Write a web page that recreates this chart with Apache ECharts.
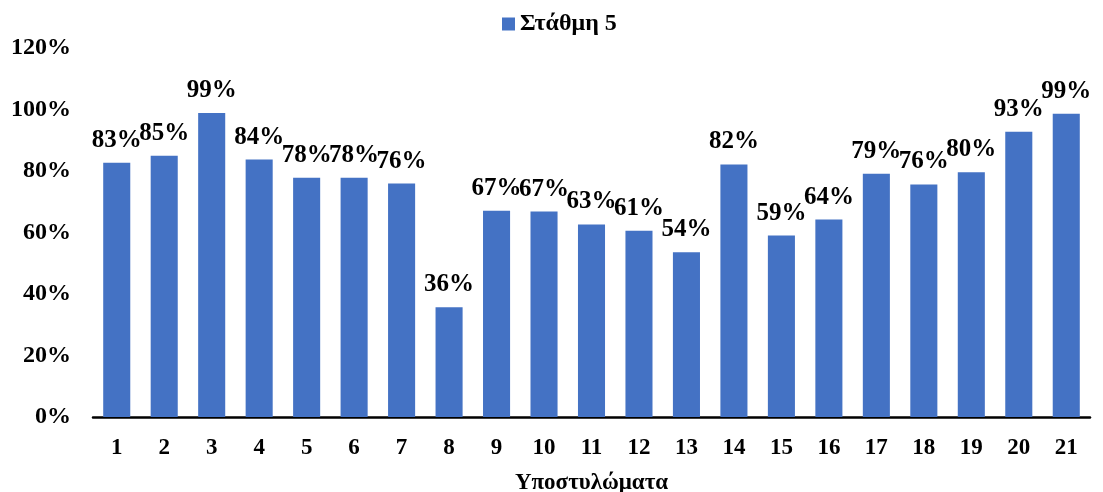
<!DOCTYPE html>
<html>
<head>
<meta charset="utf-8">
<script src="https://cdn.jsdelivr.net/npm/echarts@6/dist/echarts.min.js"></script>
<style>
  html, body { margin: 0; padding: 0; background: #fff; }
  #chart { width: 1103px; height: 492px; }
</style>
</head>
<body>
<div id="chart"></div>
<script>
// Column numbers along the horizontal axis
const categories = ['1','2','3','4','5','6','7','8','9','10','11','12','13','14','15','16','17','18','19','20','21'];
// Share per column, in percent
const values = [82.7, 85.0, 98.9, 83.7, 77.8, 77.8, 75.9, 35.7, 67.1, 66.8, 62.6, 60.6, 53.6, 82.1, 59.0, 64.2, 79.1, 75.6, 79.6, 92.8, 98.6];
const seriesName = 'Στάθμη 5';
const xTitle = 'Υποστυλώματα';

const font = '"Liberation Serif", "DejaVu Serif", serif';
const chart = echarts.init(document.getElementById('chart'));
chart.setOption({
  animation: false,
  legend: {
    top: 7,
    left: 497,
    itemWidth: 13,
    itemHeight: 13,
    icon: 'rect',
    itemGap: 6,
    textStyle: { fontFamily: font, fontWeight: 'bold', fontSize: 24, color: '#000' },
    data: [seriesName]
  },
  grid: { left: 93, right: 13, top: 48, bottom: 75, outerBoundsMode: 'none' },
  xAxis: {
    type: 'category',
    data: categories,
    name: xTitle,
    nameLocation: 'middle',
    nameGap: 55,
    nameTextStyle: { fontFamily: font, fontWeight: 'bold', fontSize: 23, color: '#000' },
    axisLine: { lineStyle: { color: '#000', width: 2.5 } },
    axisTick: { show: false },
    axisLabel: { fontFamily: font, fontWeight: 'bold', fontSize: 23, color: '#000', margin: 20 }
  },
  yAxis: {
    type: 'value',
    min: 0,
    max: 120,
    interval: 20,
    splitLine: { show: false },
    axisLine: { show: false },
    axisTick: { show: false },
    axisLabel: {
      fontFamily: font, fontWeight: 'bold', fontSize: 24, color: '#000', margin: 22,
      formatter: v => v + '%'
    }
  },
  series: [{
    name: seriesName,
    type: 'bar',
    data: values,
    barWidth: '57%',
    itemStyle: { color: '#4472C4' },
    label: {
      show: true,
      position: 'top',
      distance: 10,
      fontFamily: font,
      fontWeight: 'bold',
      fontSize: 25,
      color: '#000',
      formatter: p => Math.round(p.value) + '%'
    }
  }]
});
</script>
</body>
</html>
